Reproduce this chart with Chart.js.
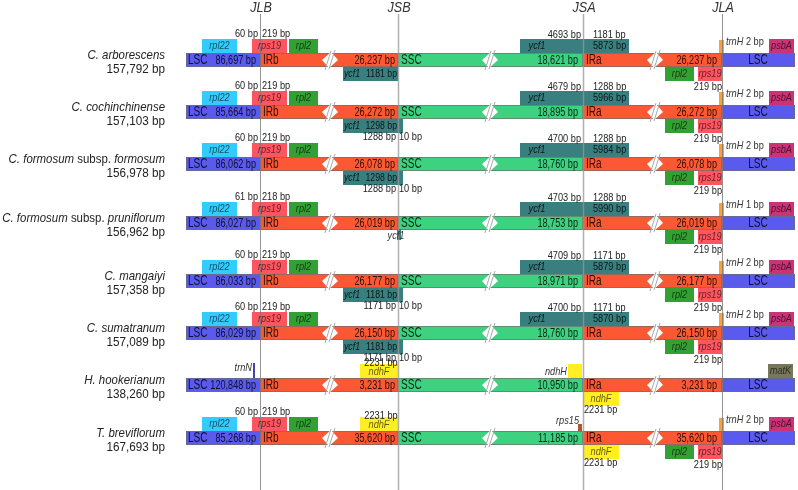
<!DOCTYPE html>
<html>
<head>
<meta charset="utf-8">
<script src="https://cdn.jsdelivr.net/npm/chart.js@4.4.0/dist/chart.umd.min.js"></script>
<style>
  html, body { margin: 0; padding: 0; background: #fff; }
  canvas { display: block; }
</style>
</head>
<body>
<canvas id="irChart" width="798" height="490"></canvas>
<script>
// Data (bp)
const species = ['C. arborescens', 'C. cochinchinense', 'C. formosum', 'C. formosum',
                 'C. mangaiyi', 'C. sumatranum', 'H. hookerianum', 'T. breviflorum'];
const subspecies = ['', '', 'formosum', 'pruniflorum', '', '', '', ''];
const genomeBp = [157792, 157103, 156978, 156962, 157358, 157089, 138260, 167693];
const lscBp = [86697, 85664, 86062, 86027, 86033, 86029, 120848, 85268];
const irBp = [26237, 26272, 26078, 26019, 26177, 26150, 3231, 35620];
const sscBp = [18621, 18895, 18760, 18753, 18971, 18760, 10950, 11185];

// genes at JLB
const rps19InLsc = [60, 60, 60, 61, 60, 60, null, 60];
const rps19InIrb = [219, 219, 219, 218, 219, 219, null, 219];
const trnNAtJlb = [false, false, false, false, false, false, true, false];
// ycf1 copy at JSB
const ycf1JsbBp = [1181, 1298, 1298, null, 1181, 1181, null, null];
const ycf1JsbInIr = [null, 1288, 1288, null, 1171, 1171, null, null];
const ycf1JsbInSsc = [null, 10, 10, null, 10, 10, null, null];
const ycf1JsbStub = [false, false, false, true, false, false, false, false];
// ycf1 at JSA
const ycf1JsaInSsc = [4693, 4679, 4700, 4703, 4709, 4700, null, null];
const ycf1JsaInIr = [1181, 1288, 1288, 1288, 1171, 1171, null, null];
const ycf1JsaBp = [5873, 5966, 5984, 5990, 5879, 5870, null, null];
// ndhF / ndhH / rps15 (rows without ycf1)
const ndhFBp = [null, null, null, null, null, null, 2231, 2231];
const jsaSmallGene = [null, null, null, null, null, null, 'ndhH', 'rps15'];
// genes at JLA
const rps19AtJla = [219, 219, 219, 219, 219, 219, null, 219];
const trnHBp = [2, 2, 2, 1, 2, 2, null, 2];
const lscEndGene = ['psbA', 'psbA', 'psbA', 'psbA', 'psbA', 'psbA', 'matK', 'psbA'];
const junctions = ['JLB', 'JSB', 'JSA', 'JLA'];

// Schematic layout (not to scale)
const X = { left: 186, jlb: 260, jsb: 398, jsa: 583, jla: 722, right: 795 };
const rowY = [60, 112, 164, 223, 281, 333, 385, 438];
const breaks = [330, 490, 655];
const box = {
  rpl22: [202, 237], rps19Top: [252, 287], rpl2Top: [289, 318],
  ycf1Bot: [343, 398], ycf1Top: [520, 629], ndhFTop: [360, 398], ndhFBot: [583, 619],
  ndhH: [568, 582], rps15: [578, 582], trnN: [253, 255],
  rpl2Bot: [665, 694], rps19Bot: [698, 722], trnH: [719, 724], psbA: [769, 794], matK: [768, 793]
};

const colors = {
  lsc: '#5a5aee', ir: '#fd5834', ssc: '#3dd27f',
  rpl22: '#33ccff', rps19: '#ff5560', rpl2: '#33a033', ycf1: '#3a7f7f',
  trnH: '#ffa033', psbA: '#cc3377', ndhF: '#ffee22', ndhH: '#ffee22',
  matK: '#77775a', rps15: '#aa5533', trnN: '#4444aa'
};

const FONT = '"Liberation Sans", Arial, sans-serif';
const fmt = v => v.toLocaleString('en-US');

function drawText(ctx, str, x, y, o) {
  o = o || {};
  ctx.save();
  ctx.font = (o.italic ? 'italic ' : '') + (o.size || 11) + 'px ' + FONT;
  ctx.fillStyle = o.color || '#222';
  ctx.textAlign = o.align || 'left';
  ctx.textBaseline = 'middle';
  ctx.translate(x, y);
  ctx.scale(o.sx || 0.85, 1);
  ctx.fillText(str, 0, 0);
  ctx.restore();
}

function textWidth(ctx, str, size, italic, sx) {
  ctx.save();
  ctx.font = (italic ? 'italic ' : '') + size + 'px ' + FONT;
  const w = ctx.measureText(str).width * sx;
  ctx.restore();
  return w;
}

const irDiagram = {
  id: 'irDiagram',
  afterDraw(chart) {
    const ctx = chart.ctx;
    const xs = chart.scales.x, ys = chart.scales.y;
    const px = v => xs.getPixelForValue(v);
    const py = v => ys.getPixelForValue(v);

    function rect(x0, x1, y0, y1, fill, stroke) {
      const a = px(x0), b = px(x1), t = py(y0), u = py(y1);
      ctx.fillStyle = fill;
      ctx.fillRect(a, t, b - a, u - t);
      if (stroke) {
        ctx.strokeStyle = stroke;
        ctx.lineWidth = 1;
        ctx.strokeRect(a + 0.5, t + 0.5, b - a - 1, u - t - 1);
      }
    }
    const above = (k, y, c) => rect(box[k][0], box[k][1], y - 21, y - 7, c);
    const below = (k, y, c) => rect(box[k][0], box[k][1], y + 7, y + 21, c);
    const G = { size: 11.5, sx: 0.8 };
    const geneLabel = (s, k, yy) =>
      drawText(ctx, s, px((box[k][0] + box[k][1]) / 2), py(yy),
        { italic: true, size: G.size, align: 'center', color: 'rgba(0,0,0,0.62)', sx: G.sx });
    const small = (s, x, yy, align) =>
      drawText(ctx, s, px(x), py(yy), { size: G.size, align: align, color: '#222', sx: G.sx });
    const italicNote = (s, x, yy, align) =>
      drawText(ctx, s, px(x), py(yy), { italic: true, size: G.size, align: align, color: '#333', sx: G.sx });

    ctx.save();
    rowY.forEach((y, i) => {
      // main regions
      const stroke = 'rgba(110,110,110,0.7)';
      rect(X.left, X.jlb, y - 7, y + 7, colors.lsc, stroke);
      rect(X.jlb, X.jsb, y - 7, y + 7, colors.ir, stroke);
      rect(X.jsb, X.jsa, y - 7, y + 7, colors.ssc, stroke);
      rect(X.jsa, X.jla, y - 7, y + 7, colors.ir, stroke);
      rect(X.jla, X.right, y - 7, y + 7, colors.lsc, stroke);

      // break marks
      breaks.forEach(bx => {
        const c = px(bx), m = py(y);
        ctx.fillStyle = '#fff';
        ctx.beginPath();
        ctx.moveTo(c - 8, m); ctx.lineTo(c + 1, m - 8); ctx.lineTo(c + 8, m); ctx.lineTo(c - 1, m + 8);
        ctx.closePath(); ctx.fill();
        ctx.strokeStyle = '#aaa'; ctx.lineWidth = 1;
        ctx.beginPath();
        ctx.moveTo(c - 5, m + 10); ctx.lineTo(c + 1, m - 9);
        ctx.moveTo(c - 1, m + 9); ctx.lineTo(c + 5, m - 10);
        ctx.stroke();
      });

      // JLB
      if (rps19InLsc[i] != null) {
        above('rpl22', y, colors.rpl22);
        above('rps19Top', y, colors.rps19);
        above('rpl2Top', y, colors.rpl2);
      }
      if (trnNAtJlb[i]) rect(box.trnN[0], box.trnN[1], y - 22, y - 7, colors.trnN);
      // JSB
      if (ycf1JsbBp[i] != null) {
        const end = box.ycf1Bot[1] + (ycf1JsbInSsc[i] ? 5 : 0);
        rect(box.ycf1Bot[0], end, y + 7, y + 21, colors.ycf1);
      }
      if (ycf1JsbStub[i]) rect(397, 401, y + 6, y + 17, colors.ycf1);
      if (ndhFBp[i] != null) {
        above('ndhFTop', y, colors.ndhF);
        below('ndhFBot', y, colors.ndhF);
      }
      // JSA
      if (ycf1JsaBp[i] != null) above('ycf1Top', y, colors.ycf1);
      if (jsaSmallGene[i] === 'ndhH') above('ndhH', y, colors.ndhH);
      if (jsaSmallGene[i] === 'rps15') rect(box.rps15[0], box.rps15[1], y - 14, y - 7, colors.rps15);
      // JLA
      if (rps19AtJla[i] != null) {
        below('rpl2Bot', y, colors.rpl2);
        below('rps19Bot', y, colors.rps19);
      }
      if (trnHBp[i] != null) rect(box.trnH[0], box.trnH[1], y - 20, y - 7, colors.trnH);
      above(lscEndGene[i], y, colors[lscEndGene[i]]);
    });

    // junction lines
    [X.jlb, X.jsb, X.jsa, X.jla].forEach((jx, k) => {
      ctx.strokeStyle = (k === 1 || k === 2) ? 'rgba(150,150,150,0.75)' : 'rgba(120,120,120,0.8)';
      ctx.lineWidth = (k === 1 || k === 2) ? 1.5 : 1;
      ctx.beginPath();
      ctx.moveTo(px(jx) + 0.5, py(14));
      ctx.lineTo(px(jx) + 0.5, py(490));
      ctx.stroke();
      drawText(ctx, junctions[k], px(jx + 1), py(8), { italic: true, size: 14, align: 'center', color: '#333', sx: 0.9 });
    });

    // texts
    rowY.forEach((y, i) => {
      const dark = 'rgba(0,0,0,0.82)';
      // species label
      const sx = 0.88, sz = 13;
      if (subspecies[i]) {
        let xr = px(165);
        const w3 = textWidth(ctx, subspecies[i], sz, true, sx);
        drawText(ctx, subspecies[i], xr, py(y - 5), { italic: true, size: sz, align: 'right', sx: sx });
        xr -= w3;
        const mid = ' subsp. ';
        const w2 = textWidth(ctx, mid, sz, false, sx);
        drawText(ctx, mid, xr, py(y - 5), { size: sz, align: 'right', sx: sx });
        xr -= w2;
        drawText(ctx, species[i], xr, py(y - 5), { italic: true, size: sz, align: 'right', sx: sx });
      } else {
        drawText(ctx, species[i], px(165), py(y - 5), { italic: true, size: sz, align: 'right', sx: sx });
      }
      drawText(ctx, fmt(genomeBp[i]) + ' bp', px(165), py(y + 9), { size: sz, align: 'right', sx: 0.9 });

      // region texts
      const R = { size: 14, sx: 0.72, color: dark };
      const N = { size: 12, sx: 0.76, color: dark, align: 'right' };
      drawText(ctx, 'LSC', px(188), py(y + 0.5), R);
      drawText(ctx, fmt(lscBp[i]) + ' bp', px(256), py(y + 0.5), N);
      drawText(ctx, 'IRb', px(263), py(y + 0.5), R);
      drawText(ctx, fmt(irBp[i]) + ' bp', px(395), py(y + 0.5), N);
      drawText(ctx, 'SSC', px(401), py(y + 0.5), R);
      drawText(ctx, fmt(sscBp[i]) + ' bp', px(578), py(y + 0.5), N);
      drawText(ctx, 'IRa', px(586), py(y + 0.5), R);
      drawText(ctx, fmt(irBp[i]) + ' bp', px(717), py(y + 0.5), N);
      drawText(ctx, 'LSC', px(758), py(y + 0.5), Object.assign({}, R, { align: 'center' }));

      // JLB genes
      if (rps19InLsc[i] != null) {
        geneLabel('rpl22', 'rpl22', y - 14);
        geneLabel('rps19', 'rps19Top', y - 14);
        geneLabel('rpl2', 'rpl2Top', y - 14);
        small(rps19InLsc[i] + ' bp', 258, y - 26, 'right');
        small(rps19InIrb[i] + ' bp', 262, y - 26, 'left');
      }
      if (trnNAtJlb[i]) italicNote('trnN', 252, y - 17, 'right');
      // JSB
      if (ycf1JsbBp[i] != null) {
        drawText(ctx, 'ycf1', px(344), py(y + 14), { italic: true, size: G.size, color: dark, sx: 0.76 });
        drawText(ctx, ycf1JsbBp[i] + ' bp', px(397), py(y + 14), { size: G.size, align: 'right', color: dark, sx: 0.76 });
      }
      if (ycf1JsbInIr[i] != null) {
        small(ycf1JsbInIr[i] + ' bp', 396, y + 25, 'right');
        small(ycf1JsbInSsc[i] + ' bp', 399, y + 25, 'left');
      }
      if (ycf1JsbStub[i]) italicNote('ycf1', 396, y + 13, 'center');
      if (ndhFBp[i] != null) {
        geneLabel('ndhF', 'ndhFTop', y - 13);
        small(ndhFBp[i] + ' bp', 381, y - 22, 'center');
        geneLabel('ndhF', 'ndhFBot', y + 14);
        small(ndhFBp[i] + ' bp', 584, y + 25, 'left');
      }
      // JSA
      if (ycf1JsaBp[i] != null) {
        drawText(ctx, 'ycf1', px(537), py(y - 14), { italic: true, size: G.size, align: 'center', color: dark, sx: G.sx });
        drawText(ctx, ycf1JsaBp[i] + ' bp', px(593), py(y - 14), { size: G.size, color: dark, sx: G.sx });
        small(ycf1JsaInSsc[i] + ' bp', 581, y - 25, 'right');
        small(ycf1JsaInIr[i] + ' bp', 593, y - 25, 'left');
      }
      if (jsaSmallGene[i] === 'ndhH') italicNote('ndhH', 567, y - 13, 'right');
      if (jsaSmallGene[i] === 'rps15') italicNote('rps15', 579, y - 17, 'right');
      // JLA
      if (rps19AtJla[i] != null) {
        geneLabel('rpl2', 'rpl2Bot', y + 14);
        geneLabel('rps19', 'rps19Bot', y + 14);
        small(rps19AtJla[i] + ' bp', 722, y + 27, 'right');
      }
      if (trnHBp[i] != null) {
        const tw = textWidth(ctx, 'trnH', G.size, true, G.sx);
        italicNote('trnH', 726, y - 18, 'left');
        drawText(ctx, ' ' + trnHBp[i] + ' bp', px(726) + tw, py(y - 18), { size: G.size, color: '#333', sx: G.sx });
      }
      geneLabel(lscEndGene[i], lscEndGene[i], y - 14);
    });
    ctx.restore();
  }
};

new Chart(document.getElementById('irChart'), {
  type: 'scatter',
  data: { datasets: [{ data: [], pointRadius: 0 }] },
  options: {
    responsive: false,
    animation: false,
    events: [],
    layout: { padding: 0 },
    plugins: { legend: { display: false }, tooltip: { enabled: false } },
    scales: {
      x: { type: 'linear', min: 0, max: 798, display: false },
      y: { type: 'linear', min: 0, max: 490, reverse: true, display: false }
    }
  },
  plugins: [irDiagram]
});
</script>
</body>
</html>
